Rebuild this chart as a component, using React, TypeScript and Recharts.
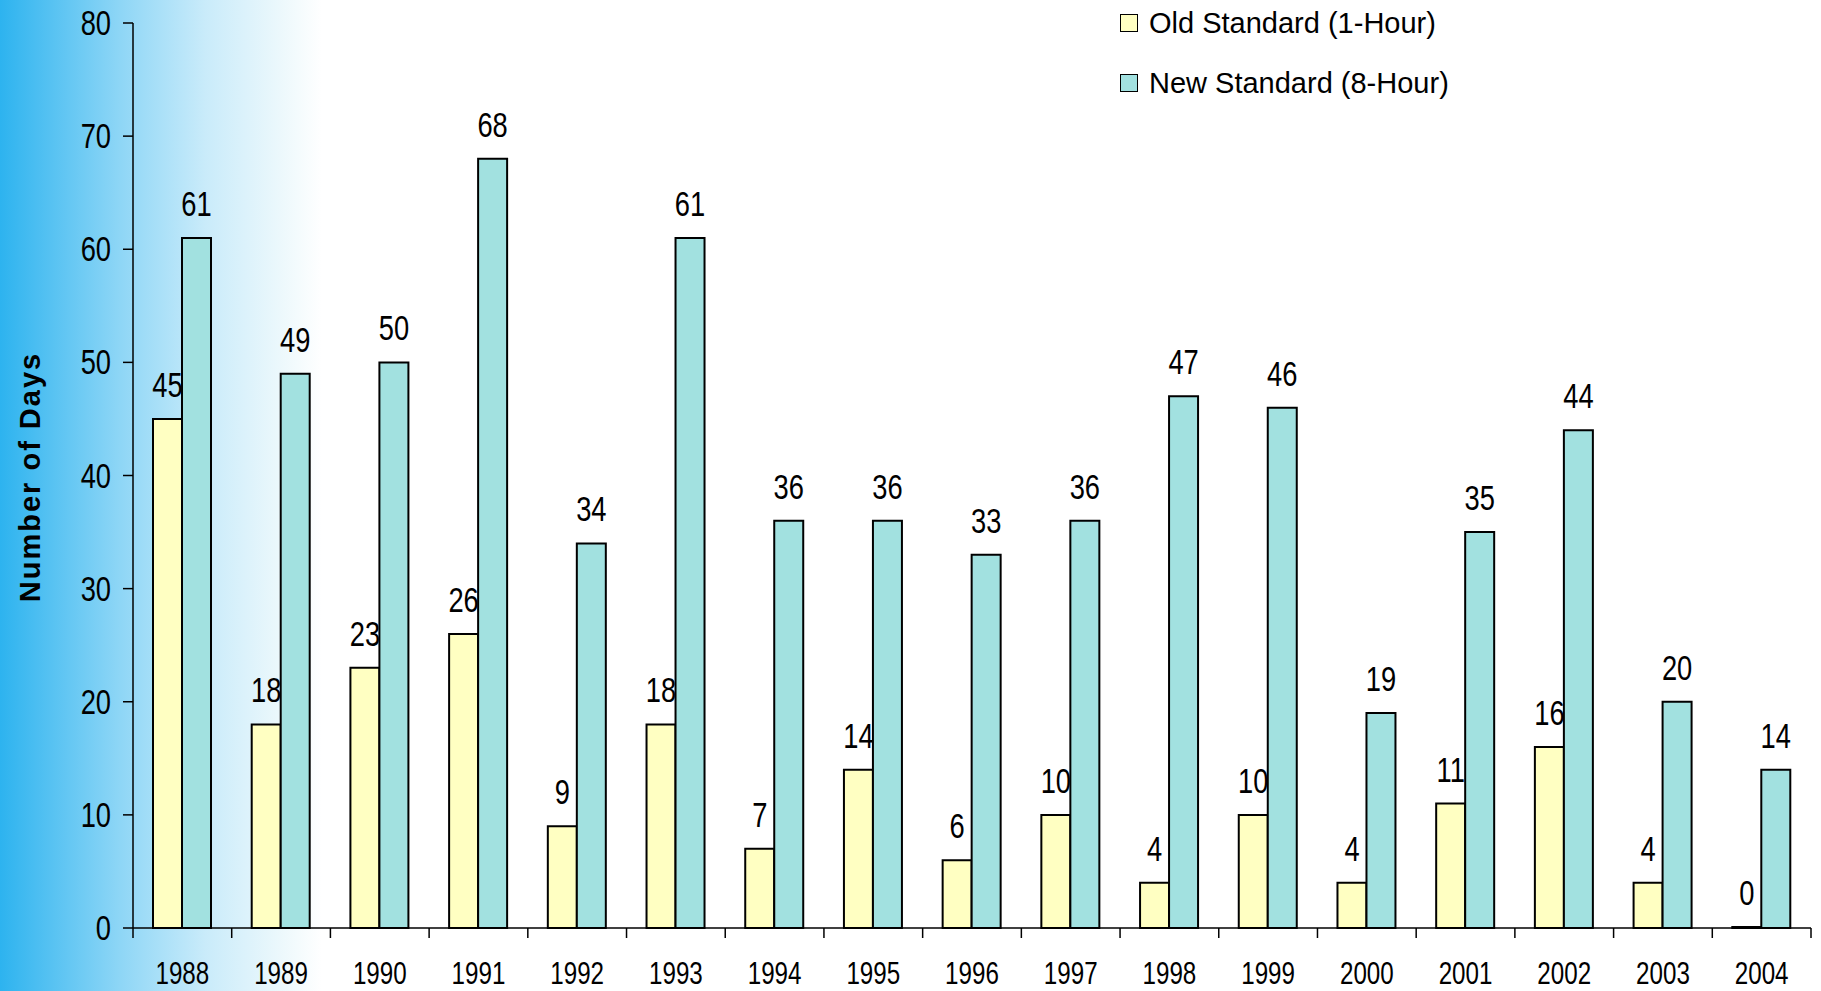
import { BarChart, Bar, XAxis, YAxis, Legend, LabelList, Label } from 'recharts';

const years = ['1988', '1989', '1990', '1991', '1992', '1993', '1994', '1995', '1996', '1997', '1998', '1999', '2000', '2001', '2002', '2003', '2004'];
const oldStandard = [45, 18, 23, 26, 9, 18, 7, 14, 6, 10, 4, 10, 4, 11, 16, 4, 0];
const newStandard = [61, 49, 50, 68, 34, 61, 36, 36, 33, 36, 47, 46, 19, 35, 44, 20, 14];
const yTicks = [0, 10, 20, 30, 40, 50, 60, 70, 80];

const OLD_COLOR = '#FFFFC2';
const NEW_COLOR = '#A2E1E0';
const FONT = '"Liberation Sans", Arial, sans-serif';
const SQUEEZE = 0.78; // the original uses a narrow face; squeeze horizontally

function NarrowText({ x, y, size, anchor = 'middle', children }: any) {
  return (
    <text
      transform={`translate(${x},${y}) scale(${SQUEEZE},1)`}
      textAnchor={anchor}
      fontFamily={FONT}
      fontSize={size}
      fill="#000"
    >
      {children}
    </text>
  );
}

const data = years.map((year, i) => ({ year, old: oldStandard[i], new: newStandard[i] }));

// ticks sit on the category boundaries, labels in the middle
function YearTick(props: any) {
  const { x, y, payload, index } = props;
  const half = payload.offset || 1678 / 17 / 2;
  const last = index === years.length - 1;
  return (
    <g>
      <line x1={x - half} y1={y} x2={x - half} y2={y + 10} stroke="#000" strokeWidth={1.5} />
      {last && <line x1={x + half} y1={y} x2={x + half} y2={y + 10} stroke="#000" strokeWidth={1.5} />}
      <NarrowText x={x} y={y + 56} size={31}>{payload.value}</NarrowText>
    </g>
  );
}

function ValueTick(props: any) {
  const { x, y, payload } = props;
  return <NarrowText x={x} y={y + 12} size={35} anchor="end">{payload.value}</NarrowText>;
}

function BarValue(props: any) {
  const { x, y, width, value } = props;
  return <NarrowText x={x + width / 2} y={y - 22} size={35}>{value}</NarrowText>;
}

function LegendBox() {
  const rows = [
    { label: 'Old Standard (1-Hour)', color: OLD_COLOR },
    { label: 'New Standard (8-Hour)', color: NEW_COLOR },
  ];
  return (
    <div>
      {rows.map((r) => (
        <div key={r.label} style={{ display: 'flex', alignItems: 'center', height: 60 }}>
          <span style={{ width: 16, height: 16, background: r.color, border: '1.5px solid #000', marginRight: 11 }} />
          <span style={{ fontFamily: FONT, fontSize: 29, color: '#000', lineHeight: '29px' }}>{r.label}</span>
        </div>
      ))}
    </div>
  );
}

export default function App() {
  return (
    <div
      style={{
        position: 'absolute',
        left: 0,
        top: 0,
        width: 1821,
        height: 991,
        background: 'linear-gradient(to right, #2db3ef 0px, #8ed6f6 120px, #c9ebfa 205px, #eef9fc 285px, #ffffff 322px)',
      }}
    >
      <BarChart
        width={1821}
        height={991}
        data={data}
        margin={{ top: 23, right: 10, left: 0, bottom: 0 }}
        barCategoryGap={20}
        barGap={0}
      >
        <XAxis
          dataKey="year"
          height={63}
          interval={0}
          tickLine={false}
          tickSize={0}
          tickMargin={0}
          axisLine={{ stroke: '#000', strokeWidth: 1.5 }}
          tick={<YearTick />}
        />
        <YAxis
          width={133}
          domain={[0, 80]}
          ticks={yTicks}
          interval={0}
          tickSize={10}
          tickMargin={12}
          axisLine={{ stroke: '#000', strokeWidth: 1.5 }}
          tickLine={{ stroke: '#000', strokeWidth: 1.5 }}
          tick={<ValueTick />}
        >
          <Label
            content={() => (
              <text
                transform="translate(30,477) rotate(-90)"
                textAnchor="middle"
                dominantBaseline="central"
                fontFamily={FONT}
                fontWeight="bold"
                fontSize={29}
                letterSpacing={2}
                fill="#000"
              >
                Number of Days
              </text>
            )}
          />
        </YAxis>
        <Legend
          layout="vertical"
          align="center"
          verticalAlign="middle"
          content={<LegendBox />}
          wrapperStyle={{ position: 'absolute', left: 1120, top: -7, width: 400 }}
        />
        <Bar dataKey="old" name="Old Standard (1-Hour)" fill={OLD_COLOR} stroke="#000" strokeWidth={2} minPointSize={1} isAnimationActive={false}>
          <LabelList dataKey="old" content={<BarValue />} />
        </Bar>
        <Bar dataKey="new" name="New Standard (8-Hour)" fill={NEW_COLOR} stroke="#000" strokeWidth={2} isAnimationActive={false}>
          <LabelList dataKey="new" content={<BarValue />} />
        </Bar>
      </BarChart>
    </div>
  );
}
